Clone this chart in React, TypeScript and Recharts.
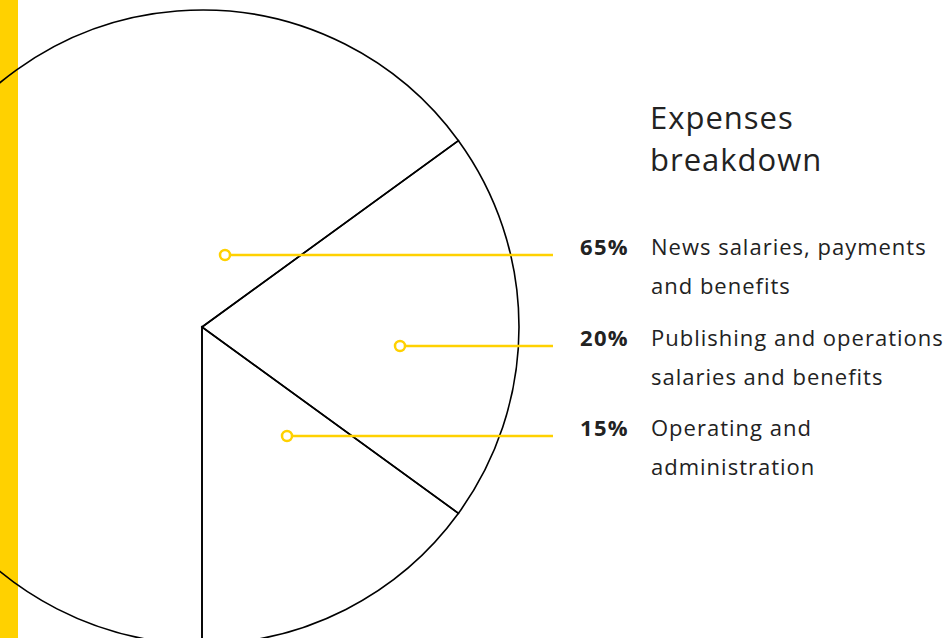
import { PieChart, Pie, Cell } from "recharts";

const categories = [
  "Operating and administration",
  "Publishing and operations salaries and benefits",
  "News salaries, payments and benefits",
];
const shares = [15, 20, 65];
// label text split into two lines each, same order as categories
const labelLines = [
  ["Operating and", "administration"],
  ["Publishing and operations", "salaries and benefits"],
  ["News salaries, payments", "and benefits"],
];

const data = categories.map((name, i) => ({ name, value: shares[i], lines: labelLines[i] }));

const YELLOW = "#FFD100";
const TEXT = "#222222";
const FONT = "'Open Sans', sans-serif";

// where each callout's dot sits, relative to the pie centre
const CALLOUT = [
  { dx: 85, dy: 109 },
  { dx: 198, dy: 19 },
  { dx: 23, dy: -72 },
];

const renderLabel = (props: any) => {
  const { cx, cy, index, payload } = props;
  const c = CALLOUT[index];
  const y = cy + c.dy;
  const x = cx + c.dx;
  const lines: string[] = payload.lines;
  return (
    <g key={`lbl-${index}`}>
      <line x1={x} y1={y} x2={553} y2={y} stroke={YELLOW} strokeWidth={2.5} />
      <circle cx={x} cy={y} r={5} fill="#fff" stroke={YELLOW} strokeWidth={2.5} />
      <text
        x={580}
        y={y}
        fontFamily={FONT}
        fontSize={22}
        fontWeight={700}
        letterSpacing={1.3}
        fill={TEXT}
      >
        {`${payload.value}%`}
      </text>
      <text x={651} y={y} fontFamily={FONT} fontSize={22} letterSpacing={1} fill={TEXT}>
        <tspan x={651} y={y}>{lines[0]}</tspan>
        <tspan x={651} y={y + 39}>{lines[1]}</tspan>
      </text>
    </g>
  );
};

export default function App() {
  return (
    <div
      style={{
        position: "fixed",
        left: 0,
        top: 0,
        width: 945,
        height: 638,
        overflow: "hidden",
        background: "#fff",
      }}
    >
      <div
        style={{ position: "absolute", left: 0, top: 0, width: 18, height: 638, background: YELLOW }}
      />
      <div style={{ position: "absolute", left: 0, top: 0 }}>
        <PieChart width={945} height={638} margin={{ top: 0, right: 0, bottom: 0, left: 0 }}>
          <text
            x={650}
            y={129}
            fontFamily={FONT}
            fontSize={31}
            fontWeight={400}
            letterSpacing={1}
            fill={TEXT}
          >
            <tspan x={650} y={129}>Expenses</tspan>
            <tspan x={650} y={171}>breakdown</tspan>
          </text>
          <Pie
            data={data}
            dataKey="value"
            nameKey="name"
            cx={202}
            cy={327}
            innerRadius={0}
            outerRadius={317}
            startAngle={-90}
            endAngle={270}
            stroke="#000"
            strokeWidth={1.6}
            label={renderLabel}
            labelLine={false}
            isAnimationActive={false}
          >
            {data.map((d, i) => (
              <Cell key={`cell-${i}`} fill="transparent" />
            ))}
          </Pie>
        </PieChart>
      </div>
    </div>
  );
}
